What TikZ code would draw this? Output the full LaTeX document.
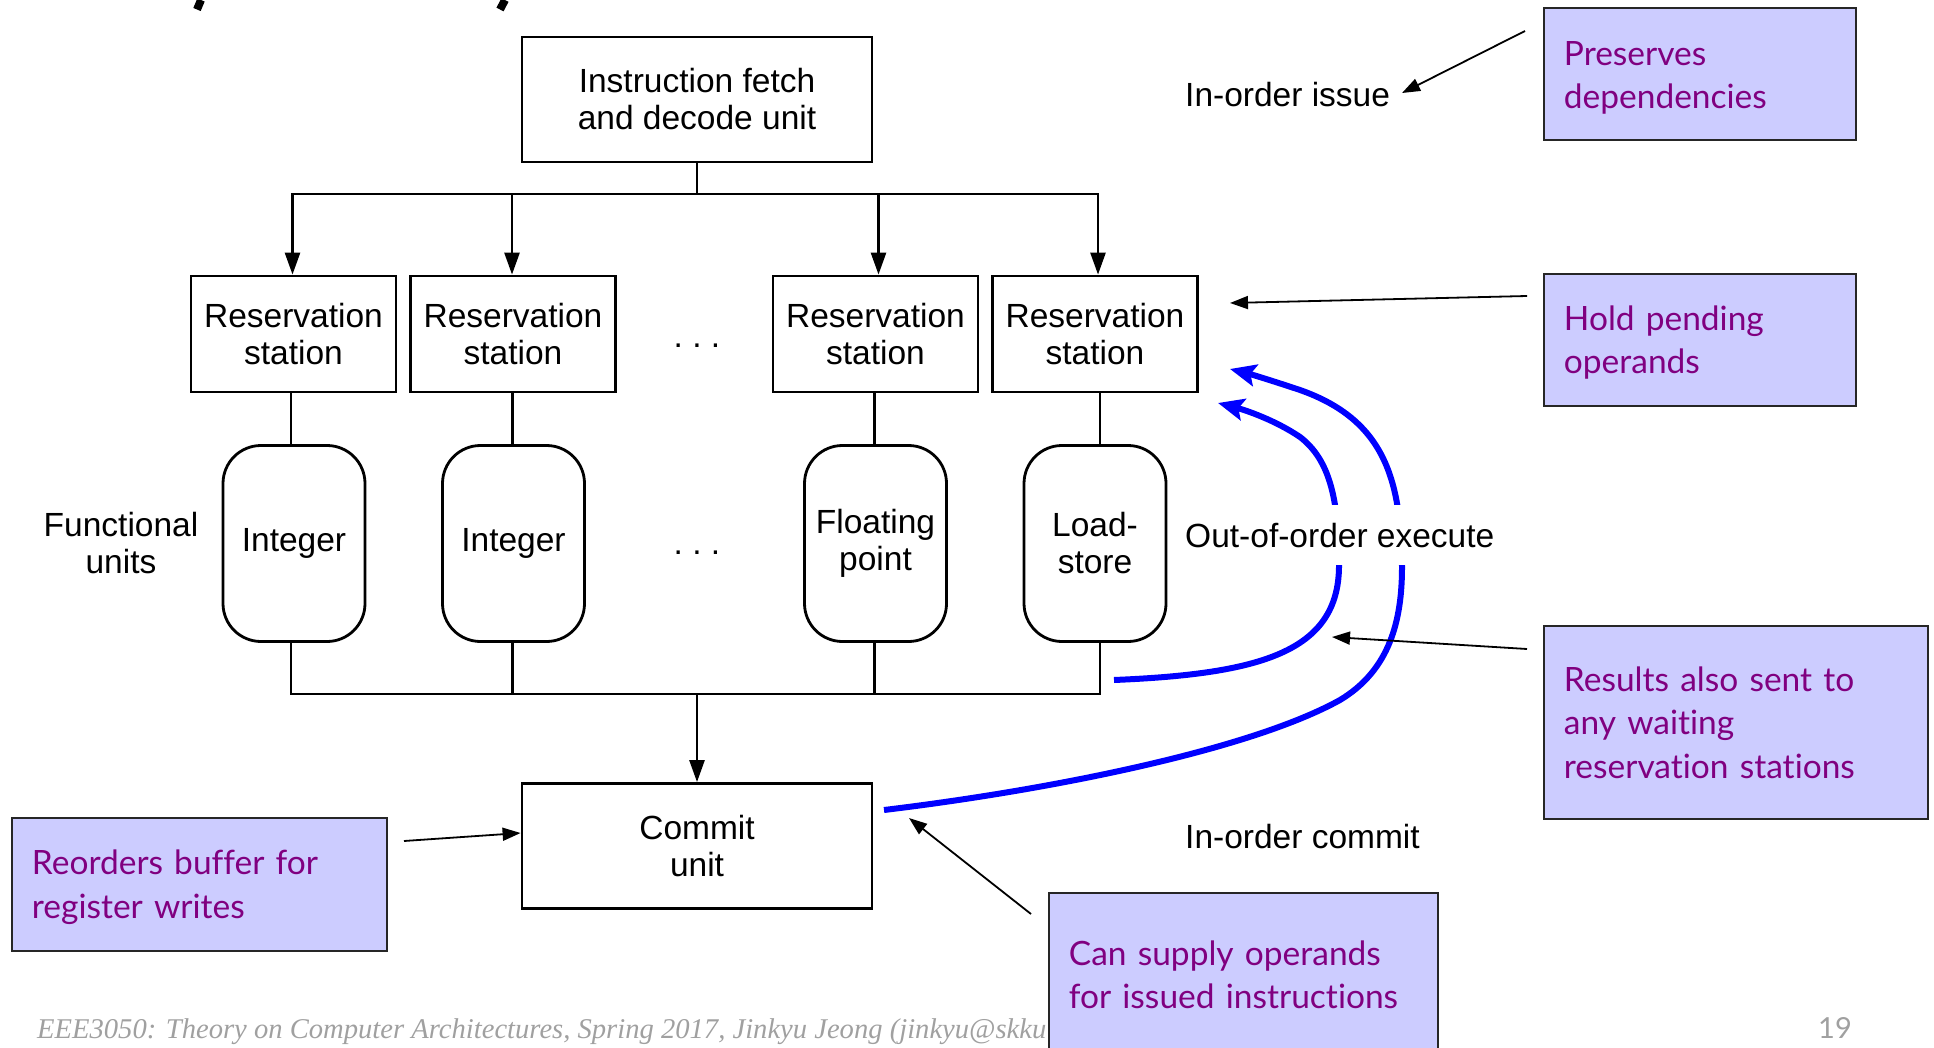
\documentclass[tikz,border=0pt]{standalone}
\usepackage{fontspec}
\setmainfont{Liberation Sans}
\newfontfamily\calloutfamily[Ligatures=NoCommon]{Lato}
\newfontfamily\footerfamily{Liberation Serif}
\usetikzlibrary{arrows.meta,calc}
\definecolor{noteText}{HTML}{800080}
\definecolor{noteFill}{HTML}{CCCCFF}
\definecolor{footGray}{HTML}{A0A0A0}
\definecolor{flowBlue}{HTML}{0000FF}
\newcommand\diagfont{\fontsize{33.5}{37}\selectfont}
\newcommand\notefont{\calloutfamily\fontsize{33.5}{43.5}\selectfont}
% extra room above the first line of a callout
\newcommand\toproom[1]{\rule{0pt}{#1}}
\begin{document}
\begin{tikzpicture}[x=1pt,y=-1pt,
  wire/.style={line width=2.6pt},
  downarrow/.style={wire,-{Triangle[length=22pt,width=15pt]}},
  unitbox/.style={draw,line width=2.8pt,minimum width=350pt,minimum height=125pt,
    align=center,font=\diagfont,inner sep=0pt},
  rsbox/.style={draw,line width=2.8pt,minimum width=205pt,minimum height=116pt,
    align=center,font=\diagfont,inner sep=0pt},
  fubox/.style={draw,line width=2.8pt,rounded corners=38pt,minimum width=142pt,
    minimum height=196pt,align=center,font=\diagfont,inner sep=0pt},
  plainlabel/.style={font=\diagfont,inner sep=0pt},
  note/.style={draw=black!85,line width=1.8pt,fill=noteFill,text=noteText,
    font=\notefont,align=left,inner xsep=20pt,inner ysep=0pt,anchor=north west},
  pointer/.style={line width=1.8pt,-{Triangle[length=18pt,width=13pt]}},
  flow/.style={flowBlue,line width=6pt,-{Stealth[length=26pt,width=22pt,inset=5pt]}}
]
\useasboundingbox (0,0) rectangle (1934,1048);

% descenders of the heading above the frame
\draw[line width=8pt] (201,0) -- (197,9.5);
\draw[line width=8pt] (505,0) -- (500,9.5);

% footer line and page number
\node[anchor=base west,inner sep=0pt,text=footGray,
  font=\footerfamily\itshape\fontsize{28.6}{34}\selectfont] (footer) at (37,1038)
  {EEE3050: Theory on Computer Architectures, Spring 2017, Jinkyu Jeong (jinkyu@skku};
\node[anchor=base west,inner sep=0pt,text=footGray,
  font=\calloutfamily\fontsize{29}{34}\selectfont] (pagenum) at (1818,1038) {19};

% issue stage
\node[unitbox] (fetch) at (697,99.5) {Instruction fetch\\and decode unit};
\node[rsbox] (rs1) at (293.5,334) {Reservation\\station};
\node[rsbox] (rs2) at (513,334) {Reservation\\station};
\node[rsbox] (rs3) at (875.5,334) {Reservation\\station};
\node[rsbox] (rs4) at (1095,334) {Reservation\\station};
\node[plainlabel,anchor=base] (rsdots) at (697,348) {.\ .\ .};

\coordinate (issueBus) at (697,194);
\coordinate (in1) at ($(rs1.north)+(-1,0)$);
\coordinate (in2) at ($(rs2.north)+(-1,0)$);
\coordinate (in3) at ($(rs3.north)+(3,0)$);
\coordinate (in4) at ($(rs4.north)+(3,0)$);
\draw[wire] (fetch.south) -- (issueBus);
\draw[wire,line cap=rect] (in1 |- issueBus) -- (in4 |- issueBus);
\foreach \p in {in1,in2,in3,in4}
  \draw[downarrow] (\p |- issueBus) -- (\p);

% functional units
\node[fubox] (fu1) at (294,543.5) {Integer};
\node[fubox] (fu2) at (513.5,543.5) {Integer};
\node[fubox] (fu3) at (875.5,543.5) {Floating\\point};
\node[fubox] (fu4) at (1095,543.5) {Load-\\store};
\node[plainlabel,anchor=base] (fudots) at (697,554) {.\ .\ .};
\node[plainlabel,align=center] (fulabel) at (121,543) {Functional\\units};

\coordinate (out1) at ($(fu1.south)+(-3,0)$);
\coordinate (out2) at ($(fu2.south)+(-1,0)$);
\coordinate (out3) at ($(fu3.south)+(-1,0)$);
\coordinate (out4) at ($(fu4.south)+(5,0)$);
\draw[wire] (rs1.south -| out1) -- (fu1.north -| out1);
\draw[wire] (rs2.south -| out2) -- (fu2.north -| out2);
\draw[wire] (rs3.south -| out3) -- (fu3.north -| out3);
\draw[wire] (rs4.south -| out4) -- (fu4.north -| out4);

% result bus and commit
\node[unitbox] (commit) at (697,846) {Commit\\unit};
\coordinate (resultBus) at (697,694);
\draw[wire] (out1) -- (out1 |- resultBus) -- (out4 |- resultBus) -- (out4);
\draw[wire] (out2) -- (out2 |- resultBus);
\draw[wire] (out3) -- (out3 |- resultBus);
\draw[downarrow] (resultBus) -- (commit.north);

% forwarding paths back to the reservation stations
\coordinate (fwdA) at (1114,680);
\coordinate (fwdAend) at (1218,403);
\coordinate (fwdB) at (884,810);
\coordinate (fwdBend) at (1230,369);
\draw[flow] (fwdA) .. controls (1260,674) and (1338,652) .. (1339,567)
  .. controls (1339,500) and (1330,460) .. (1300,437)
  .. controls (1275,420) and (1245,410) .. (fwdAend);
\draw[flow] (fwdB) .. controls (1050,790) and (1250,750) .. (1340,700)
  .. controls (1390,670) and (1402,620) .. (1402,567)
  .. controls (1401,480) and (1385,420) .. (1300,390)
  .. controls (1270,380) and (1250,374) .. (fwdBend);

% stage labels
\node[plainlabel,anchor=base west] (issue) at (1185,107) {In-order issue};
\node[plainlabel,anchor=base west,fill=white,inner xsep=2pt,minimum height=60pt]
  (execute) at (1183,547) {Out-of-order execute};
\node[plainlabel,anchor=base west] (commitlbl) at (1185,848) {In-order commit};

% callouts
\node[note,text width=272pt,minimum height=132pt] (preserve) at (1543,7)
  {\toproom{32pt}Preserves\\dependencies};
\node[note,text width=272pt,minimum height=132pt] (pending) at (1543,273)
  {\toproom{30pt}Hold pending\\operands};
\node[note,text width=344pt,minimum height=193pt] (results) at (1543,625)
  {Results also sent to\\any waiting\\reservation stations};
\node[note,text width=335pt,minimum height=133pt] (reorder) at (11,817)
  {\toproom{30pt}Reorders buffer for\\register writes};
\node[note,text width=349pt,minimum height=164pt] (supply) at (1048,892)
  {Can supply operands\\for issued instructions};

\coordinate (preserveTail) at (1525,31);
\coordinate (issueTip) at (1402,93);
\coordinate (pendingTail) at (1527,296);
\coordinate (pendingTip) at (1230,303);
\coordinate (resultsTail) at (1527,649);
\coordinate (resultsTip) at (1332,637);
\coordinate (reorderTail) at (404,841);
\coordinate (supplyTail) at (1031,914);
\coordinate (supplyTip) at (909,818);

\draw[pointer] (preserveTail) -- (issueTip);
\draw[pointer] (pendingTail) -- (pendingTip);
\draw[pointer] (resultsTail) -- (resultsTip);
\draw[pointer] (reorderTail) -- (commit.west |- 0,833);
\draw[pointer] (supplyTail) -- (supplyTip);
\end{tikzpicture}
\end{document}
